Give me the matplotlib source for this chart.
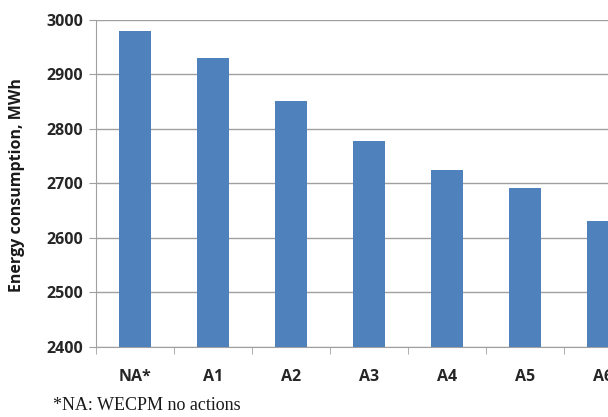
import matplotlib
matplotlib.use("Agg")
import matplotlib.pyplot as plt
import numpy as np

categories = ["NA*", "A1", "A2", "A3", "A4", "A5", "A6"]
values = [2979, 2931, 2852, 2778, 2725, 2692, 2632]
yticks = [2400, 2500, 2600, 2700, 2800, 2900, 3000]

fig = plt.figure(figsize=(6.08, 4.17), dpi=100)
ax = fig.add_axes([96/608, 70/417, 546/608, 327/417])

x = np.arange(len(categories))
ax.bar(x, values, width=0.4, color="#4F81BD", zorder=3)
ax.set_xlim(-0.5, 6.5)
ax.set_ylim(2400, 3000)
ax.set_yticks(yticks)
ax.yaxis.grid(True, color="#a0a0a0", linewidth=1.0, zorder=0)
ax.set_xticks(x)
ax.set_xticklabels(categories)
ax.set_xticks(np.arange(-0.5, 7.0, 1.0), minor=True)
ax.tick_params(axis="x", which="major", length=0, pad=16)
ax.tick_params(axis="x", which="minor", length=5, color="#a0a0a0", direction="out")
ax.tick_params(axis="y", length=5, color="#a0a0a0", direction="out", pad=4)
for lab in ax.get_xticklabels() + ax.get_yticklabels():
    lab.set_fontfamily("Open Sans")
    lab.set_fontsize(11.5)
    lab.set_fontweight("bold")
    lab.set_color("#262626")
for s in ["top", "right"]:
    ax.spines[s].set_visible(False)
ax.spines["left"].set_color("#a0a0a0")
ax.spines["bottom"].set_color("#a0a0a0")

fig.text(17/608, 1 - 185/417, "Energy consumption, MWh", rotation=90,
         ha="center", va="center", fontfamily="Open Sans", fontsize=11.5,
         fontweight="bold", color="#1a1a1a")
fig.text(53/608, 1 - 406/417, "*NA: WECPM no actions", ha="left", va="center",
         fontfamily="Liberation Serif", fontsize=13, color="#1a1a1a")

fig.savefig("out.png", dpi=100)
